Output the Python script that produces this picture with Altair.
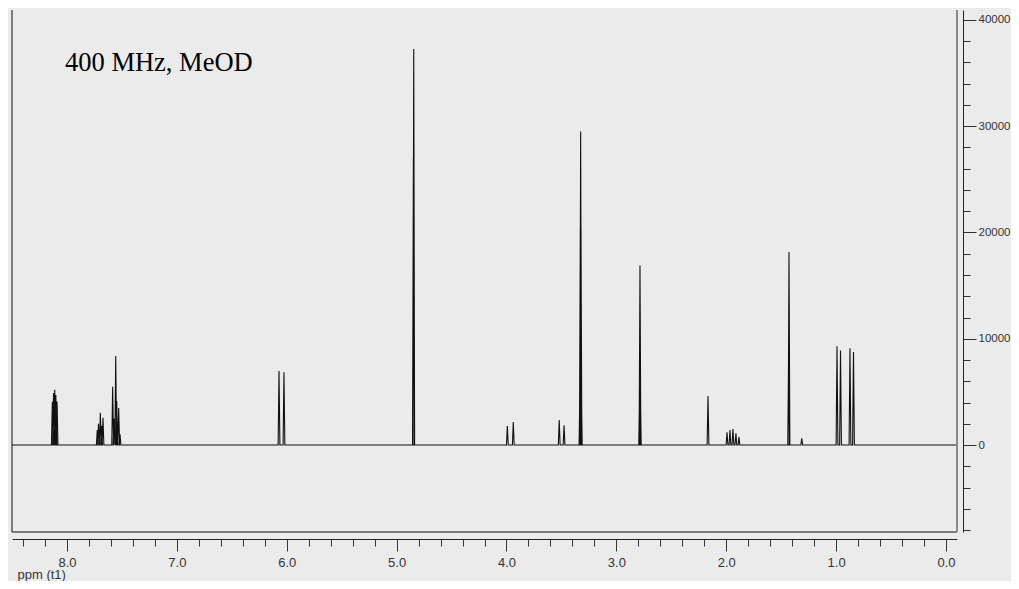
import altair as alt
import pandas as pd

# ---- data ----
peak_ppm = [8.133, 8.122, 8.111, 8.101, 8.090,
            7.724, 7.713, 7.696, 7.685, 7.672,
            7.584, 7.572, 7.556, 7.547, 7.529, 7.517,
            6.070, 6.025,
            4.847, 4.844,
            3.992, 3.938,
            3.520, 3.476,
            3.331, 3.328, 3.325, 3.322, 3.319,
            2.788, 2.785, 2.782,
            2.166,
            1.993, 1.966, 1.939, 1.912, 1.884,
            1.432, 1.429,
            1.313,
            0.992, 0.960,
            0.874, 0.842]
peak_height = [4070, 4900, 5200, 4700, 4100,
               1400, 2000, 3040, 1800, 2570,
               5480, 2500, 8380, 4140, 3480, 1000,
               6960, 6840,
               27000, 37260,
               1790, 2160,
               2350, 1850,
               6000, 20500, 29500, 20500, 6000,
               5500, 16900, 5500,
               4600,
               1200, 1400, 1500, 1100, 750,
               9000, 18160,
               630,
               9300, 8900,
               9100, 8750]

x_domain = [8.5, -0.1]
y_domain = [-8188, 40941]
x_major = [0, 1, 2, 3, 4, 5, 6, 7, 8]
x_minor = [round(i * 0.2, 1) for i in range(0, 43)]
y_major = [0, 10000, 20000, 30000, 40000]
y_minor = list(range(-8000, 40001, 2000))
label_text = "400 MHz, MeOD"

# ---- build the line table from the peak list ----
half_w = 0.008
xs, ys = [x_domain[0]], [0]
for p, h in zip(peak_ppm, peak_height):
    xs += [p + half_w, p, p - half_w]
    ys += [0, h, 0]
xs.append(x_domain[1])
ys.append(0)
df = pd.DataFrame({"ppm": xs, "intensity": ys, "order": list(range(len(xs)))})

W, H = 945, 522
xs_scale = alt.Scale(domain=x_domain, nice=False, zero=False)
ys_scale = alt.Scale(domain=y_domain, nice=False, zero=False)

tick_col = "#333333"
font = "Liberation Sans"

spectrum = alt.Chart(df).mark_line(color="#111111", strokeWidth=1.1, clip=True).encode(
    x=alt.X("ppm:Q", scale=xs_scale,
            axis=alt.Axis(orient="bottom", values=x_major, format=".1f", offset=7,
                          tickSize=12, tickColor=tick_col, domainColor="#222222",
                          labelFontSize=13, labelColor="#333333", labelFont=font,
                          labelPadding=5, labelFlush=False, grid=False,
                          title="ppm (t1)", titleX=5, titleY=35, titleAlign="left",
                          titleBaseline="middle", titleFontWeight="normal",
                          titleFontSize=13, titleFont=font, titleColor="#333333")),
    y=alt.Y("intensity:Q", scale=ys_scale,
            axis=alt.Axis(orient="right", values=y_major, format="d", offset=6,
                          tickSize=13, tickColor=tick_col, domainColor="#222222",
                          labelFontSize=11.5, labelColor="#333333", labelFont=font,
                          labelPadding=2, labelFlush=False, grid=False, title=None)),
    order="order:Q",
)

minor = alt.Chart(df).mark_line(opacity=0).encode(
    x=alt.X("ppm:Q", scale=xs_scale,
            axis=alt.Axis(orient="bottom", values=x_minor, labels=False, offset=7,
                          tickSize=7, tickColor=tick_col, domain=False, grid=False,
                          title=None)),
    y=alt.Y("intensity:Q", scale=ys_scale,
            axis=alt.Axis(orient="right", values=y_minor, labels=False, offset=6,
                          tickSize=7, tickColor=tick_col, domain=False, grid=False,
                          title=None)),
)

one = pd.DataFrame({"a": [0]})
left_line = alt.Chart(one).mark_rule(color="#111111", strokeWidth=1).encode(
    x=alt.value(0), y=alt.value(0), y2=alt.value(H))
bottom_line = alt.Chart(one).mark_rule(color="#111111", strokeWidth=1).encode(
    x=alt.value(0), x2=alt.value(W), y=alt.value(H))
right_line = alt.Chart(one).mark_rule(color="#8a8a8a", strokeWidth=2).encode(
    x=alt.value(W), y=alt.value(0), y2=alt.value(H))

label = alt.Chart(one).mark_text(
    align="left", baseline="alphabetic", font="Liberation Serif", fontSize=26.5,
    color="#000000").encode(x=alt.value(53), y=alt.value(61), text=alt.value(label_text))

chart = alt.layer(
    spectrum, minor, left_line, bottom_line, right_line, label
).resolve_axis(x="independent", y="independent").properties(
    width=W, height=H,
    autosize=alt.AutoSizeParams(type="none"),
    padding={"left": 4, "top": 2, "right": 54, "bottom": 49},
    background="#ebebeb",
).configure_view(stroke=None)

chart.save("out.html", embed_options={"renderer": "svg", "actions": False})
